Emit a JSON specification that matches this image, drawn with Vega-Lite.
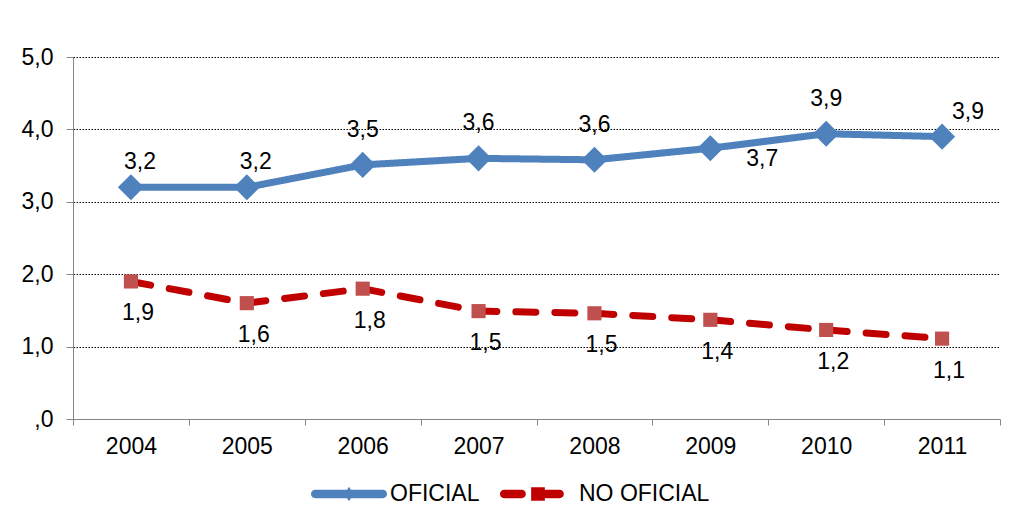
{
  "$schema": "https://vega.github.io/schema/vega-lite/v6.json",
  "width": 927,
  "height": 362,
  "autosize": "none",
  "padding": {"left": 73, "top": 57, "right": 9, "bottom": 87},
  "background": "white",
  "config": {
    "view": {"stroke": null},
    "font": "Liberation Sans",
    "locale": {"number": {"decimal": ",", "thousands": ".", "grouping": [3], "currency": ["", " €"]}},
    "axis": {"labelFont": "Liberation Sans", "labelFontSize": 23, "labelColor": "#000000"},
    "text": {"font": "Liberation Sans", "fontSize": 23, "color": "#000000"}
  },
  "data": {
    "values": [
      {"anio": "2004", "serie": "OFICIAL", "valor": 3.20},
      {"anio": "2005", "serie": "OFICIAL", "valor": 3.20},
      {"anio": "2006", "serie": "OFICIAL", "valor": 3.51},
      {"anio": "2007", "serie": "OFICIAL", "valor": 3.60},
      {"anio": "2008", "serie": "OFICIAL", "valor": 3.58},
      {"anio": "2009", "serie": "OFICIAL", "valor": 3.74},
      {"anio": "2010", "serie": "OFICIAL", "valor": 3.94},
      {"anio": "2011", "serie": "OFICIAL", "valor": 3.90},
      {"anio": "2004", "serie": "NO OFICIAL", "valor": 1.90},
      {"anio": "2005", "serie": "NO OFICIAL", "valor": 1.60},
      {"anio": "2006", "serie": "NO OFICIAL", "valor": 1.80},
      {"anio": "2007", "serie": "NO OFICIAL", "valor": 1.49},
      {"anio": "2008", "serie": "NO OFICIAL", "valor": 1.46},
      {"anio": "2009", "serie": "NO OFICIAL", "valor": 1.37},
      {"anio": "2010", "serie": "NO OFICIAL", "valor": 1.23},
      {"anio": "2011", "serie": "NO OFICIAL", "valor": 1.11}
    ]
  },
  "encoding": {
    "x": {
      "field": "anio", "type": "ordinal",
      "scale": {"type": "band", "paddingInner": 0, "paddingOuter": 0},
      "axis": {"title": null, "labelAngle": 0, "tickBand": "extent", "tickSize": 6, "tickColor": "#868686", "domainColor": "#868686", "labelPadding": 10, "grid": false}
    },
    "y": {
      "field": "valor", "type": "quantitative",
      "scale": {"domain": [0, 5], "nice": false},
      "axis": {
        "title": null, "values": [0, 1, 2, 3, 4, 5], "format": ".1f",
        "labelExpr": "datum.value === 0 ? ',0' : datum.label",
        "tickSize": 7, "tickColor": "#868686", "domainColor": "#868686", "labelPadding": 13,
        "grid": true, "gridColor": "#000000", "gridDash": [1.5, 1.5], "gridWidth": 1,
        "gridOpacity": {"condition": {"test": "datum.value === 0", "value": 0}, "value": 1}
      }
    }
  },
  "layer": [
    {
      "mark": {"type": "line", "strokeWidth": 7, "strokeCap": "round", "strokeJoin": "round"},
      "encoding": {
        "color": {
          "field": "serie", "type": "nominal",
          "scale": {"domain": ["OFICIAL", "NO OFICIAL"], "range": ["#4F81BD", "#C00000"]},
          "legend": {
            "title": null, "orient": "none", "legendX": 238, "legendY": 399, "direction": "horizontal",
            "symbolSize": 5776, "symbolStrokeWidth": 0, "labelFontSize": 23, "labelFont": "Liberation Sans",
            "labelColor": "#000000", "labelOffset": 3, "columnPadding": 20, "padding": 0, "labelLimit": 300,
            "encode": {
              "symbols": {
                "update": {
                  "shape": {"signal": "datum.value === 'OFICIAL' ? 'M-0.89,-0.11H0.89A0.11,0.11 0 0 1 0.89,0.11H-0.89A0.11,0.11 0 0 1 -0.89,-0.11Z M0,-0.19L0.12,0L0,0.19L-0.12,0Z' : 'M-0.89,-0.11H-0.43A0.11,0.11 0 0 1 -0.43,0.11H-0.89A0.11,0.11 0 0 1 -0.89,-0.11Z M-0.18,-0.18H0.18V0.18H-0.18Z M0.18,-0.11H0.57A0.11,0.11 0 0 1 0.57,0.11H0.18Z'"},
                  "fill": {"signal": "datum.value === 'OFICIAL' ? '#4F81BD' : '#C00000'"},
                  "stroke": {"value": "transparent"},
                  "opacity": {"value": 1}
                }
              }
            }
          }
        },
        "strokeDash": {
          "field": "serie", "type": "nominal",
          "scale": {"domain": ["OFICIAL", "NO OFICIAL"], "range": [[1, 0], [20, 19]]},
          "legend": null
        }
      }
    },
    {
      "transform": [{"filter": "datum.serie === 'OFICIAL'"}],
      "mark": {"type": "point", "shape": "diamond", "filled": true, "opacity": 1, "size": 680, "color": "#4F81BD"}
    },
    {
      "transform": [{"filter": "datum.serie === 'NO OFICIAL'"}],
      "mark": {"type": "point", "shape": "square", "filled": true, "opacity": 1, "size": 200, "color": "#C0504D"}
    },
    {
      "transform": [{"filter": "datum.serie === 'OFICIAL' && indexof(['2006','2007','2008','2010'], datum.anio) >= 0"}],
      "mark": {"type": "text", "dx": 0, "dy": -35, "baseline": "middle", "align": "center"},
      "encoding": {"text": {"field": "valor", "type": "quantitative", "format": ".1f"}}
    },
    {
      "transform": [{"filter": "datum.serie === 'OFICIAL' && indexof(['2004','2005'], datum.anio) >= 0"}],
      "mark": {"type": "text", "dx": 9, "dy": -25, "baseline": "middle", "align": "center"},
      "encoding": {"text": {"field": "valor", "type": "quantitative", "format": ".1f"}}
    },
    {
      "transform": [{"filter": "datum.serie === 'OFICIAL' && datum.anio === '2011'"}],
      "mark": {"type": "text", "dx": 26, "dy": -25, "baseline": "middle", "align": "center"},
      "encoding": {"text": {"field": "valor", "type": "quantitative", "format": ".1f"}}
    },
    {
      "transform": [{"filter": "datum.serie === 'OFICIAL' && datum.anio === '2009'"}],
      "mark": {"type": "text", "dx": 52, "dy": 11, "baseline": "middle", "align": "center"},
      "encoding": {"text": {"field": "valor", "type": "quantitative", "format": ".1f"}}
    },
    {
      "transform": [{"filter": "datum.serie === 'NO OFICIAL'"}],
      "mark": {"type": "text", "dx": 7, "dy": 32, "baseline": "middle", "align": "center"},
      "encoding": {"text": {"field": "valor", "type": "quantitative", "format": ".1f"}}
    }
  ]
}
